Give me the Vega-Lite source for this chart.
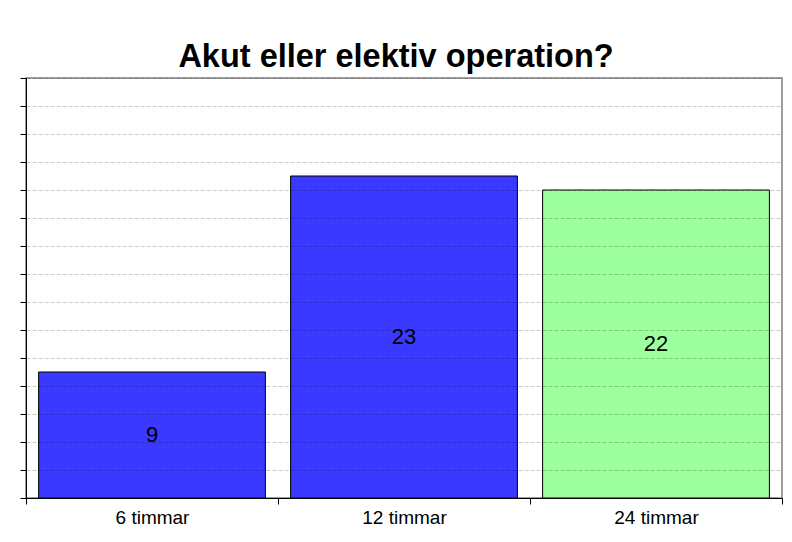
{
  "$schema": "https://vega.github.io/schema/vega-lite/v6.json",
  "autosize": {"type": "none"},
  "padding": {"left": 26, "top": 78, "right": 10, "bottom": 44},
  "width": 756,
  "height": 420,
  "background": "white",
  "title": {
    "text": "Akut eller elektiv operation?",
    "font": "Liberation Sans",
    "fontSize": 32.5,
    "fontWeight": "bold",
    "color": "black",
    "anchor": "middle",
    "offset": 4,
    "dx": -8
  },
  "config": {
    "view": {"stroke": "#808080", "strokeWidth": 1.5},
    "font": "Liberation Sans"
  },
  "data": {
    "values": [
      {"kategori": "6 timmar", "antal": 9, "grupp": "a"},
      {"kategori": "12 timmar", "antal": 23, "grupp": "a"},
      {"kategori": "24 timmar", "antal": 22, "grupp": "b"}
    ]
  },
  "resolve": {"axis": {"y": "independent"}},
  "encoding": {
    "x": {
      "field": "kategori",
      "type": "nominal",
      "sort": null,
      "scale": {"paddingInner": 0, "paddingOuter": 0},
      "axis": {
        "title": null,
        "labelAngle": 0,
        "labelFont": "Liberation Sans",
        "labelFontSize": 19,
        "labelColor": "black",
        "labelPadding": 4,
        "tickBand": "extent",
        "tickSize": 6,
        "tickColor": "black",
        "domainColor": "black",
        "grid": false
      }
    }
  },
  "layer": [
    {
      "mark": {"type": "bar", "stroke": "black", "strokeWidth": 1, "width": {"band": 0.9}},
      "encoding": {
        "y": {
          "field": "antal",
          "type": "quantitative",
          "scale": {"domain": [0, 30], "nice": false},
          "axis": {
            "title": null,
            "labels": false,
            "labelOverlap": false,
            "values": [0, 2, 4, 6, 8, 10, 12, 14, 16, 18, 20, 22, 24, 26, 28, 30],
            "tickSize": 6,
            "tickColor": "black",
            "domainColor": "black",
            "grid": true,
            "gridColor": "#000000",
            "gridOpacity": 0.2,
            "gridDash": [4, 2],
            "zindex": 1
          }
        },
        "color": {
          "field": "grupp",
          "type": "nominal",
          "scale": {"domain": ["a", "b"], "range": ["#3939FF", "#9DFF9D"]},
          "legend": null
        }
      }
    },
    {
      "transform": [{"calculate": "datum.antal / 2", "as": "mitt"}],
      "mark": {"type": "text", "font": "Liberation Sans", "fontSize": 22, "color": "black", "baseline": "middle"},
      "encoding": {
        "y": {"field": "mitt", "type": "quantitative", "scale": {"domain": [0, 30], "nice": false}, "axis": null},
        "text": {"field": "antal", "type": "quantitative"}
      }
    }
  ]
}
